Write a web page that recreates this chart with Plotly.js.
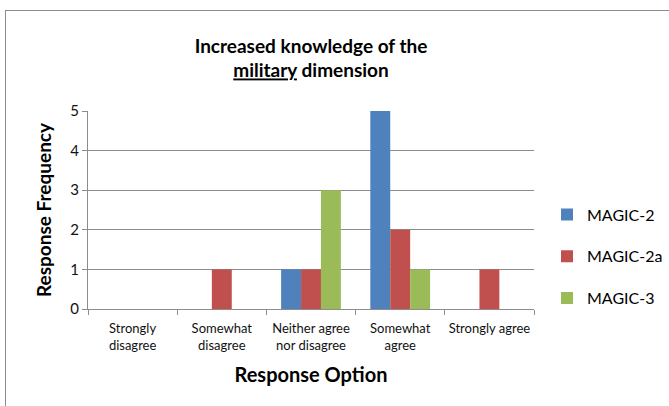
<!DOCTYPE html>
<html>
<head>
<meta charset="utf-8">
<script src="https://cdn.plot.ly/plotly-3.0.1.min.js"></script>
<style>
html,body{margin:0;padding:0;background:#fff;}
#wrap{position:relative;width:669px;height:406px;overflow:hidden;}
#frame{position:absolute;left:5px;top:10px;width:700px;height:420px;border:1px solid #8c8c8c;box-sizing:border-box;}
#chart{position:absolute;left:0;top:0;width:669px;height:406px;}
</style>
</head>
<body>
<div id="wrap"><div id="frame"></div><div id="chart"></div></div>
<script>
const categories = ["Strongly disagree", "Somewhat disagree", "Neither agree nor disagree", "Somewhat agree", "Strongly agree"];
const tickLabels = ["Strongly<br>disagree", "Somewhat<br>disagree", "Neither agree<br>nor disagree", "Somewhat<br>agree", "Strongly agree"];
const magic2 = [0, 0, 1, 5, 0];
const magic2a = [0, 1, 1, 2, 1];
const magic3 = [0, 0, 3, 1, 0];
const seriesNames = ["MAGIC-2", "MAGIC-2a", "MAGIC-3"];
const colors = ["#4f81bd", "#c0504d", "#9bbb59"];

const font = "Lato, 'Open Sans', sans-serif";
const data = [magic2, magic2a, magic3].map((vals, i) => ({
  type: "bar",
  x: categories,
  y: vals,
  name: seriesNames[i],
  legendgroup: "g" + i,
  marker: {color: colors[i]},
  hoverinfo: "skip"
}));

const layout = {
  width: 669, height: 406,
  paper_bgcolor: "rgba(0,0,0,0)",
  plot_bgcolor: "rgba(0,0,0,0)",
  margin: {l: 88, r: 135, t: 111, b: 97, autoexpand: false},
  barmode: "group",
  bargap: 0.33,
  bargroupgap: 0,
  font: {family: font, color: "#000"},
  title: {
    text: "<b>Increased knowledge of the<br><u>military</u> dimension</b>",
    font: {size: 19, family: font, color: "#000"},
    x: 0.5, xref: "paper", xanchor: "center",
    y: 0.87, yref: "container", yanchor: "middle"
  },
  xaxis: {
    type: "category",
    tickvals: categories,
    ticktext: tickLabels,
    tickangle: 0,
    tickfont: {size: 13, family: font, color: "#111"},
    showline: true, linecolor: "#8c8c8c", linewidth: 1,
    ticks: "outside", ticklen: 5, tickcolor: "#8c8c8c",
    tickson: "boundaries",
    ticklabelstandoff: 7,
    showgrid: false,
    title: {text: "<b>Response Option</b>", font: {size: 20, family: font, color: "#000"}, standoff: 16}
  },
  yaxis: {
    range: [0, 5],
    dtick: 1,
    tickfont: {size: 15, family: font, color: "#111"},
    showline: true, linecolor: "#8c8c8c", linewidth: 1,
    ticks: "outside", ticklen: 5, tickcolor: "#8c8c8c",
    showgrid: true, gridcolor: "#8c8c8c", gridwidth: 1,
    zeroline: false,
    title: {text: "<b>Response Frequency</b>", font: {size: 19, family: font, color: "#000"}, standoff: 13}
  },
  legend: {
    xref: "container", x: 547 / 669, xanchor: "left",
    y: 0.265, yanchor: "middle",
    font: {size: 16, family: font, color: "#000"},
    tracegroupgap: 18,
    bgcolor: "rgba(0,0,0,0)"
  },
  showlegend: true
};

Plotly.newPlot("chart", data, layout, {displayModeBar: false, staticPlot: true});
</script>
</body>
</html>
